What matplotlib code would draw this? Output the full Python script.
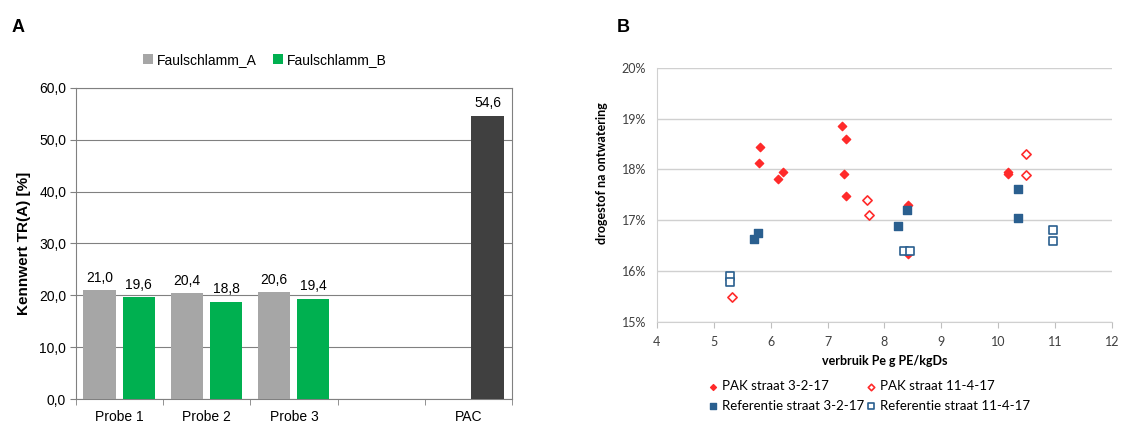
import matplotlib.pyplot as plt
import numpy as np

# ---- panel A data ----
categories = ['Probe 1', 'Probe 2', 'Probe 3', '', 'PAC']
faul_a = [21.0, 20.4, 20.6, np.nan, np.nan]
faul_b = [19.6, 18.8, 19.4, np.nan, 54.6]
bar_colors_b = ['#00B050', '#00B050', '#00B050', '#00B050', '#404040']

# ---- panel B data ----
pak_3217_x = [5.82, 5.80, 6.13, 6.22, 7.26, 7.33, 7.29, 7.33, 8.41, 8.41, 10.18, 10.18]
pak_3217_y = [18.44, 18.12, 17.82, 17.95, 18.85, 18.61, 17.92, 17.48, 17.30, 16.33, 17.95, 17.92]
pak_11417_x = [5.32, 7.70, 7.72, 10.48, 10.48]
pak_11417_y = [15.49, 17.40, 17.10, 18.30, 17.90]
ref_3217_x = [5.71, 5.77, 8.23, 8.40, 10.35, 10.35]
ref_3217_y = [16.62, 16.75, 16.88, 17.20, 17.61, 17.04]
ref_11417_x = [5.28, 5.28, 8.35, 8.45, 10.96, 10.96]
ref_11417_y = [15.90, 15.79, 16.40, 16.40, 16.80, 16.60]

plt.rcParams['font.family'] = ['Liberation Sans', 'DejaVu Sans']
fig = plt.figure(figsize=(11.37, 4.24), dpi=100)

# ================= Panel A =================
axA = fig.add_axes([0.0668, 0.0583, 0.3835, 0.735])
idx = np.arange(len(categories))
w = 0.37
barsA = axA.bar(idx - 0.23, faul_a, w, color='#A6A6A6', label='Faulschlamm_A', zorder=3)
barsB = axA.bar(idx + 0.22, faul_b, w, color=bar_colors_b, label='Faulschlamm_B', zorder=3)

for xs, vals in [(idx - 0.23, faul_a), (idx + 0.22, faul_b)]:
    for xi, v in zip(xs, vals):
        if not np.isnan(v):
            axA.text(xi, v + 1.0, f'{v:.1f}'.replace('.', ','), ha='center', va='bottom',
                     fontsize=10)

axA.set_xlim(-0.5, 4.5)
axA.set_ylim(0, 60)
axA.set_yticks(np.arange(0, 61, 10))
axA.set_yticklabels([f'{v:.1f}'.replace('.', ',') for v in np.arange(0, 61, 10)], fontsize=10)
axA.set_xticks(idx)
axA.set_xticklabels(categories, fontsize=10)
axA.set_xticks(np.arange(-0.5, 5, 1), minor=True)
axA.tick_params(axis='x', which='major', length=0, pad=8)
axA.tick_params(axis='x', which='minor', length=4, color='#808080', direction='out')
axA.tick_params(axis='y', length=4, color='#808080', pad=3)
axA.yaxis.grid(True, color='#808080', lw=0.8, zorder=0)
for s in axA.spines.values():
    s.set_color('#808080')
axA.set_ylabel('Kennwert TR(A) [%]', fontsize=11, fontweight='bold', labelpad=6)
fig.legend(handles=[barsA, barsB], labels=['Faulschlamm_A', 'Faulschlamm_B'],
           loc='center', bbox_to_anchor=(265 / 1137, 1 - 60 / 424), ncol=2, frameon=False,
           prop={'size': 10}, handlelength=0.7, handleheight=0.7,
           handletextpad=0.3, columnspacing=1.2)

# ================= Panel B =================
axB = fig.add_axes([0.5778, 0.2413, 0.4002, 0.5983])
red = '#FF2A2A'
blue = '#2A5F8F'
h_pak3 = axB.scatter(pak_3217_x, pak_3217_y, marker='D', s=18, color=red, zorder=3)
h_pak11 = axB.scatter(pak_11417_x, pak_11417_y, marker='D', s=22, facecolor='white',
                      edgecolor=red, linewidth=1.2, zorder=3)
h_ref3 = axB.scatter(ref_3217_x, ref_3217_y, marker='s', s=30, color=blue, zorder=3)
h_ref11 = axB.scatter(ref_11417_x, ref_11417_y, marker='s', s=30, facecolor='white',
                      edgecolor=blue, linewidth=1.2, zorder=3)

axB.set_xlim(4, 12)
axB.set_ylim(15, 20)
axB.set_xticks(np.arange(4, 13, 1))
axB.set_yticks(np.arange(15, 21, 1))
axB.set_yticklabels([f'{v}%' for v in range(15, 21)])
axB.tick_params(axis='both', labelsize=9, colors='#404040')
axB.tick_params(axis='y', length=0, pad=8)
axB.tick_params(axis='x', length=4, color='#BFBFBF', pad=6)
axB.yaxis.grid(True, color='#D0D0D0', lw=1.0, zorder=0)
axB.spines['top'].set_visible(False)
axB.spines['right'].set_visible(False)
axB.spines['left'].set_color('#D0D0D0')
axB.spines['bottom'].set_color('#D0D0D0')
for lab in axB.get_xticklabels() + axB.get_yticklabels():
    lab.set_family('Lato')
axB.set_xlabel('verbruik Pe g PE/kgDs', fontsize=9, fontweight='bold', family='Lato',
               labelpad=5)
axB.set_ylabel('drogestof na ontwatering', fontsize=9, fontweight='bold', family='Lato')
axB.yaxis.set_label_coords(-0.108, 0.587)
fig.legend(handles=[h_pak3, h_ref3, h_pak11, h_ref11],
           labels=['PAK straat 3-2-17', 'Referentie straat 3-2-17',
                   'PAK straat 11-4-17', 'Referentie straat 11-4-17'],
           loc='upper left', bbox_to_anchor=(706 / 1137, 1 - 380 / 424), ncol=2,
           frameon=False, prop={'family': 'Lato', 'size': 9.5}, borderpad=0,
           borderaxespad=0, handlelength=1.0, handletextpad=0.2,
           columnspacing=0.05, labelspacing=0.6, markerscale=0.7)

# panel letters
fig.text(12 / 1137, 1 - 27 / 424, 'A', fontsize=13, fontweight='bold', va='center')
fig.text(617 / 1137, 1 - 27 / 424, 'B', fontsize=13, fontweight='bold', va='center')

fig.savefig('out.png', dpi=100)
